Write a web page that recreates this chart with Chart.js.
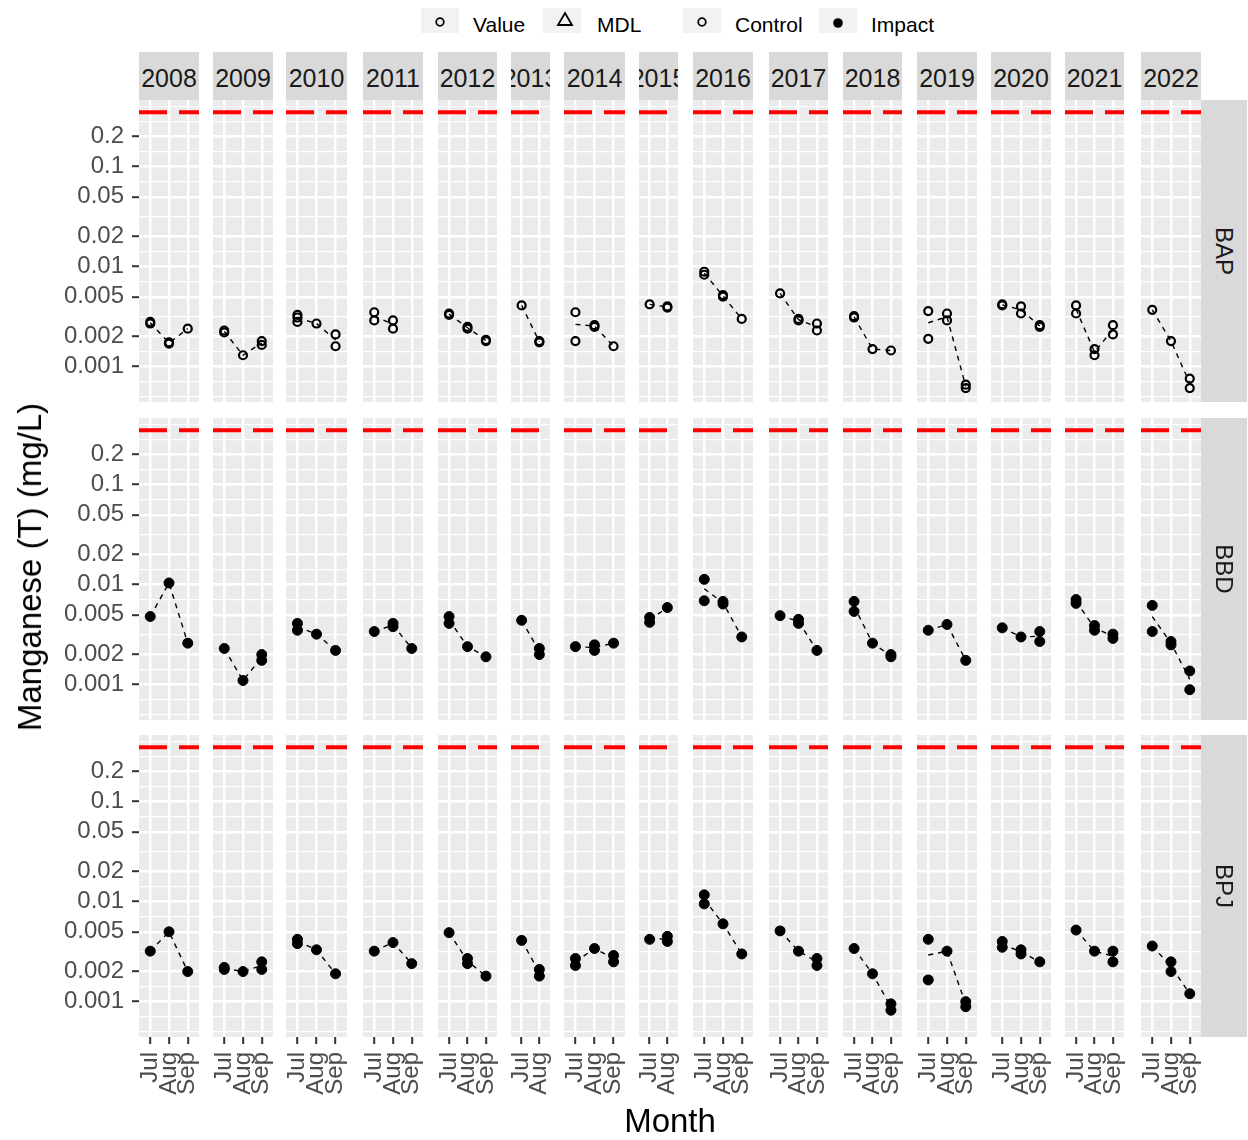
<!DOCTYPE html>
<html>
<head>
<meta charset="utf-8">
<script src="https://cdn.jsdelivr.net/npm/chart.js@4.4.1/dist/chart.umd.min.js"></script>
<style>
  body { margin: 0; background: #fff; font-family: "Liberation Sans", Arial, sans-serif; }
  #wrap { position: relative; width: 1248px; height: 1140px; overflow: hidden; background: #fff; }
  canvas { position: absolute; }
  .strip { position: absolute; background: #d9d9d9; color: #1a1a1a; overflow: hidden; white-space: nowrap;
           display: flex; align-items: center; justify-content: center; font-size: 25px; }
  .strip.top span { position: relative; top: 2px; }
  .strip.side span { display: inline-block; transform: rotate(90deg); font-size: 24px; }
  .key { position: absolute; top: 8px; width: 38px; height: 25px; background: #f2f2f2; }
  .ltxt { position: absolute; top: 25px; transform: translateY(-50%); font-size: 21px; color: #000; white-space: nowrap; }
  .title { position: absolute; font-size: 33px; color: #000; white-space: nowrap; z-index: 5; }
</style>
</head>
<body>
<div id="wrap">
  <div class="key" style="left:421px"><svg width="38" height="25"><circle cx="19" cy="14" r="3.8" fill="none" stroke="#000" stroke-width="1.8"/></svg></div>
  <div class="ltxt" style="left:473px">Value</div>
  <div class="key" style="left:543px"><svg width="38" height="25"><polygon points="22,5 29,17 15,17" fill="none" stroke="#000" stroke-width="1.8"/></svg></div>
  <div class="ltxt" style="left:597px">MDL</div>
  <div class="key" style="left:683px"><svg width="38" height="25"><circle cx="19" cy="14" r="3.8" fill="none" stroke="#000" stroke-width="1.8"/></svg></div>
  <div class="ltxt" style="left:735px">Control</div>
  <div class="key" style="left:819px"><svg width="38" height="25"><circle cx="19" cy="15" r="4.8" fill="#000"/></svg></div>
  <div class="ltxt" style="left:871px">Impact</div>
  <div class="title" style="left:30px; top:567px; transform: translate(-50%, -50%) rotate(-90deg);">Manganese (T) (mg/L)</div>
  <div class="title" style="left:670px; top:1121px; transform: translate(-50%, -50%);">Month</div>
</div>
<script>
// data
const years = ["2008", "2009", "2010", "2011", "2012", "2013", "2014", "2015",
               "2016", "2017", "2018", "2019", "2020", "2021", "2022"];
const monthLabels = ["Jul", "Aug", "Sep"];
const monthsPerYear = [3, 3, 3, 3, 3, 2, 3, 2, 3, 3, 3, 3, 3, 3, 3];
const sites = ["BAP", "BBD", "BPJ"];
const siteGroup = ["Control", "Impact", "Impact"];
const mnLimit = 0.35;
const yTicks = [0.001, 0.002, 0.005, 0.01, 0.02, 0.05, 0.1, 0.2];
const yTickLabels = ["0.001", "0.002", "0.005", "0.01", "0.02", "0.05", "0.1", "0.2"];

// one entry per year, one list per month (Jul, Aug, Sep)
const bapValues = [
  [[0.0028, 0.0027], [0.0017, 0.00175], [0.0024]],
  [[0.0022, 0.0023], [0.0013], [0.0018, 0.00165]],
  [[0.0033, 0.0031, 0.0028], [0.0027], [0.0021, 0.0016]],
  [[0.0035, 0.0029], [0.0029, 0.0024], []],
  [[0.0034, 0.0033], [0.0025, 0.0024], [0.0018, 0.00185]],
  [[0.0041], [0.0018, 0.00175]],
  [[0.0035, 0.0018], [0.0026, 0.0025], [0.0016]],
  [[0.0042], [0.0039, 0.0040]],
  [[0.0089, 0.0083], [0.0052, 0.0050], [0.0030]],
  [[0.0054], [0.0030, 0.0029], [0.0027, 0.0023]],
  [[0.0031, 0.0032], [0.0015], [0.00145]],
  [[0.0036, 0.0019], [0.0034, 0.0029], [0.00066, 0.00061]],
  [[0.0041, 0.0042], [0.0040, 0.0034], [0.0026, 0.0025]],
  [[0.0041, 0.0034], [0.0015, 0.0013], [0.0026, 0.0021]],
  [[0.0037], [0.0018], [0.00076, 0.00061]]
];
const bbdValues = [
  [[0.0048], [0.0104], [0.0026]],
  [[0.0023], [0.0011], [0.0020, 0.00175]],
  [[0.0041, 0.0035], [0.0032], [0.0022]],
  [[0.0034], [0.0041, 0.0038], [0.0023]],
  [[0.0048, 0.0041], [0.0024], [0.0019]],
  [[0.0044], [0.0023, 0.0020]],
  [[0.0024], [0.0025, 0.0022], [0.0026]],
  [[0.0047, 0.0042], [0.0059]],
  [[0.0113, 0.0069], [0.0068, 0.0064], [0.0030]],
  [[0.0049], [0.0045, 0.0041], [0.0022]],
  [[0.0068, 0.0054], [0.0026], [0.0020, 0.0019]],
  [[0.0035], [0.0040], [0.00175]],
  [[0.0037], [0.0030], [0.0034, 0.0027]],
  [[0.0071, 0.0065], [0.0039, 0.0035], [0.0032, 0.0029]],
  [[0.0062, 0.0034], [0.0027, 0.0025], [0.00137, 0.00089]]
];
const bpjValues = [
  [[0.0032], [0.0050], [0.0020]],
  [[0.0022, 0.0021], [0.0020], [0.0025, 0.0021]],
  [[0.0042, 0.0038], [0.0033], [0.0019]],
  [[0.0032], [0.0039], [0.0024]],
  [[0.0049], [0.0027, 0.0024], [0.0018]],
  [[0.0041], [0.0021, 0.0018]],
  [[0.0027, 0.0023], [0.0034], [0.0029, 0.0025]],
  [[0.0042], [0.0045, 0.0040]],
  [[0.0117, 0.0095], [0.0060], [0.0030]],
  [[0.0051], [0.0032], [0.0027, 0.0023]],
  [[0.0034], [0.0019], [0.00095, 0.00082]],
  [[0.0042, 0.00165], [0.0032], [0.0010, 0.00089]],
  [[0.0040, 0.0035], [0.0033, 0.0030], [0.0025]],
  [[0.0052], [0.0032], [0.0032, 0.0025]],
  [[0.0036], [0.0025, 0.0020], [0.0012]]
];
const siteValues = [bapValues, bbdValues, bpjValues];

// layout
const fontFamily = '"Liberation Sans", Arial, sans-serif';
const panelLeft = [139, 213, 286, 363, 438, 511, 564, 639, 693, 769, 843, 917, 991, 1065, 1141];
const panelWidth = [60, 60, 61, 60, 59, 39, 61, 39, 60, 59, 59, 60, 60, 59, 60];
const rowTop = [100, 418, 735];
const panelHeight = 302;
const stripTop = 52;
const padX = 7;
const xAxisHeight = 80;
const yMin = 0.000443, yMax = 0.4645;

// ggplot-like minor breaks: midpoints in log space, extended one step past the ends
const logMajors = yTicks.map(v => Math.log10(v));
const step = logMajors[1] - logMajors[0];
const ext = [logMajors[0] - step, ...logMajors, logMajors[logMajors.length - 1] + step];
const minorValues = [Math.pow(10, ext[0]), Math.pow(10, ext[ext.length - 1])];
for (let i = 0; i < ext.length - 1; i++) {
  minorValues.push(Math.pow(10, (ext[i] + ext[i + 1]) / 2));
}
const gridTicks = yTicks.map(v => ({ value: v, major: true }))
  .concat(minorValues.map(v => ({ value: v, major: false })))
  .filter(t => t.value > yMin && t.value < yMax)
  .sort((a, b) => a.value - b.value);
const tickLabel = v => {
  const i = yTicks.findIndex(t => Math.abs(t - v) / t < 1e-9);
  return i < 0 ? "" : yTickLabels[i];
};

const wrap = document.getElementById("wrap");

const panelBackground = {
  id: "panelBackground",
  beforeDraw(chart) {
    const { ctx, chartArea: a } = chart;
    ctx.save();
    ctx.fillStyle = "#ebebeb";
    ctx.fillRect(a.left, a.top, a.right - a.left, a.bottom - a.top);
    ctx.restore();
  }
};

const limitLine = {
  id: "limitLine",
  beforeDatasetsDraw(chart) {
    const { ctx, chartArea: a, scales } = chart;
    const y = scales.y.getPixelForValue(mnLimit);
    ctx.save();
    ctx.beginPath();
    ctx.rect(a.left, a.top, a.right - a.left, a.bottom - a.top);
    ctx.clip();
    ctx.strokeStyle = "#ff0000";
    ctx.lineWidth = 4;
    ctx.setLineDash([28, 12]);
    ctx.beginPath();
    ctx.moveTo(a.left, y);
    ctx.lineTo(a.right, y);
    ctx.stroke();
    ctx.restore();
  }
};

function makePanel(row, col) {
  const n = monthsPerYear[col];
  const months = monthLabels.slice(0, n);
  const values = siteValues[row][col];
  const filled = siteGroup[row] === "Impact";
  const points = [];
  const means = [];
  values.forEach((arr, i) => {
    if (!arr.length) return;
    arr.forEach(v => points.push({ x: i + 1, y: v }));
    means.push({ x: i + 1, y: arr.reduce((a, b) => a + b, 0) / arr.length });
  });

  const first = col === 0;
  const bottom = row === 2;
  const left = first ? 0 : panelLeft[col] - padX;
  const width = first ? panelLeft[col] + panelWidth[col] + padX : panelWidth[col] + 2 * padX;
  const height = panelHeight + (bottom ? xAxisHeight : 0);

  const canvas = document.createElement("canvas");
  canvas.width = width;
  canvas.height = height;
  canvas.style.left = left + "px";
  canvas.style.top = rowTop[row] + "px";
  canvas.style.width = width + "px";
  canvas.style.height = height + "px";
  wrap.appendChild(canvas);

  new Chart(canvas.getContext("2d"), {
    data: {
      datasets: [
        {
          type: "scatter",
          data: points,
          order: 1,
          pointStyle: "circle",
          pointRadius: filled ? 5 : 4,
          pointBorderWidth: filled ? 1 : 2.2,
          pointBorderColor: "#000",
          pointBackgroundColor: filled ? "#000" : "rgba(0,0,0,0)",
          pointHoverRadius: filled ? 5 : 4
        },
        {
          type: "line",
          data: means,
          order: 2,
          borderColor: "#000",
          borderWidth: 1.4,
          borderDash: [5, 5],
          pointRadius: 0,
          fill: false,
          tension: 0
        }
      ]
    },
    options: {
      responsive: false,
      animation: false,
      devicePixelRatio: 1,
      layout: { autoPadding: false, padding: { left: first ? 0 : padX, right: padX, top: 0, bottom: 0 } },
      plugins: { legend: { display: false }, tooltip: { enabled: false } },
      events: [],
      scales: {
        x: {
          type: "linear",
          min: 0.4,
          max: n + 0.6,
          afterBuildTicks: axis => { axis.ticks = months.map((m, i) => ({ value: i + 1 })); },
          afterFit: axis => {
            axis.height = bottom ? xAxisHeight : 0;
            axis.paddingLeft = 0;
            axis.paddingRight = 0;
          },
          border: { display: false },
          grid: { color: "#ffffff", lineWidth: 2.4, drawTicks: bottom, tickLength: 7, tickColor: "#333333", tickWidth: 2 },
          ticks: {
            display: bottom,
            autoSkip: false,
            minRotation: 90,
            maxRotation: 90,
            padding: 8,
            color: "#4d4d4d",
            font: { family: fontFamily, size: 24 },
            callback: v => monthLabels[v - 1]
          }
        },
        y: {
          type: "logarithmic",
          min: yMin,
          max: yMax,
          afterBuildTicks: axis => { axis.ticks = gridTicks.map(t => ({ value: t.value, major: t.major })); },
          afterFit: axis => {
            axis.width = first ? panelLeft[0] : 0;
            axis.paddingTop = 0;
            axis.paddingBottom = 0;
          },
          border: { display: false },
          grid: {
            color: "#ffffff",
            lineWidth: c => (c.tick && tickLabel(c.tick.value) ? 2.4 : 1.2),
            drawTicks: first,
            tickLength: 7,
            tickWidth: 2,
            tickColor: c => (c.tick && tickLabel(c.tick.value) ? "#333333" : "rgba(0,0,0,0)")
          },
          ticks: {
            display: first,
            autoSkip: false,
            padding: 8,
            color: "#4d4d4d",
            font: { family: fontFamily, size: 24 },
            callback: v => tickLabel(v)
          }
        }
      }
    },
    plugins: [panelBackground, limitLine]
  });
}

for (let r = 0; r < sites.length; r++) {
  for (let c = 0; c < years.length; c++) {
    makePanel(r, c);
  }
}

// strips
years.forEach((yr, c) => {
  const d = document.createElement("div");
  d.className = "strip top";
  d.style.left = panelLeft[c] + "px";
  d.style.top = stripTop + "px";
  d.style.width = panelWidth[c] + "px";
  d.style.height = (rowTop[0] - stripTop) + "px";
  d.innerHTML = "<span>" + yr + "</span>";
  wrap.appendChild(d);
});
sites.forEach((s, r) => {
  const d = document.createElement("div");
  d.className = "strip side";
  d.style.left = (panelLeft[14] + panelWidth[14]) + "px";
  d.style.top = rowTop[r] + "px";
  d.style.width = "46px";
  d.style.height = panelHeight + "px";
  d.innerHTML = "<span>" + s + "</span>";
  wrap.appendChild(d);
});
</script>
</body>
</html>
